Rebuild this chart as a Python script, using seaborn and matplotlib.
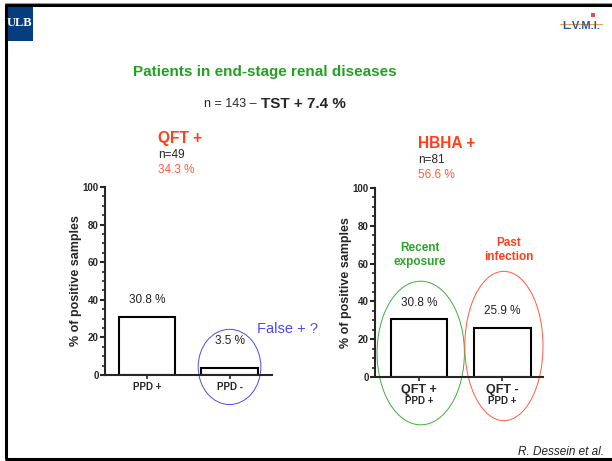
import matplotlib
matplotlib.use("Agg")
import matplotlib.pyplot as plt
from matplotlib.patches import Ellipse, Rectangle
from matplotlib.lines import Line2D
from matplotlib.ticker import MultipleLocator
import seaborn as sns

# ---- data ----
qft_categories = ["PPD +", "PPD -"]
qft_values = [30.8, 3.5]

hbha_top_labels = ["QFT +", "QFT -"]
hbha_bottom_labels = ["PPD +", "PPD +"]
hbha_values = [30.8, 25.9]

y_ticks = [0, 20, 40, 60, 80, 100]

title_text = "Patients in end-stage renal diseases"
cohort_text = "n = 143 \u2013"
tst_text = "TST + 7.4 %"
qft_header = ["QFT +", "n=49", "34.3 %"]
hbha_header = ["HBHA +", "n=81", "56.6 %"]
ylabel_text = "% of positive samples"

W, H = 612, 461

sns.set_style("ticks")
plt.rcParams["font.family"] = ["Liberation Sans", "DejaVu Sans"]

fig = plt.figure(figsize=(W / 100, H / 100), dpi=100)
fig.patch.set_facecolor("white")

RED = "#ff3f1a"
RED_LIGHT = "#ff5a3c"
GREEN = "#22a022"
BLUE = "#4a4af0"


def fx(x):
    return x / W


def fy(y):
    return 1 - y / H


def style_axes(ax, xlim):
    ax.set_ylim(0, 100)
    ax.set_xlim(*xlim)
    ax.set_yticks(y_ticks)
    ax.yaxis.set_minor_locator(MultipleLocator(5))
    for s in ["top", "right"]:
        ax.spines[s].set_visible(False)
    for s in ["left", "bottom"]:
        ax.spines[s].set_linewidth(1.5)
    ax.tick_params(axis="y", which="major", length=3.5, width=1.5, pad=1,
                   labelsize=7)
    ax.tick_params(axis="y", which="minor", length=2, width=1.2)
    ax.tick_params(axis="x", length=3, width=1.2, pad=2)
    for lbl in ax.get_yticklabels():
        lbl.set_fontweight("bold")
    ax.set_ylabel(ylabel_text, fontsize=9, fontweight="bold", labelpad=0.5)
    ax.set_xlabel("")
    ax.set_facecolor("none")


def bar_labels(ax, values, offsets):
    for i, (v, off) in enumerate(zip(values, offsets)):
        ax.annotate(f"{v:.1f} %", xy=(i, v), xytext=(0, off),
                    textcoords="offset points", ha="center", va="center",
                    fontsize=8.5, color="#222222")


# ---- left panel: QFT + ----
ax1 = fig.add_axes([fx(105), fy(375), fx(272) - fx(105), fy(187) - fy(375)])
sns.barplot(x=qft_categories, y=qft_values, ax=ax1, color="white",
            edgecolor="black", linewidth=1.5, width=0.68, saturation=1)
style_axes(ax1, (-0.51, 1.515))
ax1.set_xticks(range(len(qft_categories)))
ax1.set_xticklabels(qft_categories, fontsize=7, fontweight="bold")
bar_labels(ax1, qft_values, [12, 20])
ax1.add_patch(Ellipse((1.0, 4.3), 0.76, 40, fill=False, edgecolor=BLUE,
                      linewidth=0.7, clip_on=False))

# ---- right panel: HBHA + ----
ax2 = fig.add_axes([fx(375), fy(377), fx(543) - fx(375), fy(188) - fy(377)])
sns.barplot(x=hbha_top_labels, y=hbha_values, ax=ax2, color="white",
            edgecolor="black", linewidth=1.5, width=0.68, saturation=1)
style_axes(ax2, (-0.53, 1.49))
ax2.set_xticks(range(len(hbha_top_labels)))
ax2.set_xticklabels(hbha_top_labels, fontsize=9, fontweight="bold")
for i, lab in enumerate(hbha_bottom_labels):
    ax2.annotate(lab, xy=(i, 0), xytext=(0, -17), textcoords="offset points",
                 ha="center", va="center", fontsize=7, fontweight="bold",
                 annotation_clip=False)
bar_labels(ax2, hbha_values, [11.5, 12])
ax2.add_patch(Ellipse((0.02, 12.7), 1.05, 76, fill=False, edgecolor="#3cae3c",
                      linewidth=0.7, clip_on=False))
ax2.add_patch(Ellipse((1.02, 16.4), 0.94, 79, fill=False, edgecolor="#ff5a3c",
                      linewidth=0.7, clip_on=False))

# ---- annotations around the panels ----
fig.text(fx(265), fy(72), title_text, color=GREEN, fontsize=11,
         fontweight="bold", ha="center", va="center")
fig.text(fx(257), fy(104), cohort_text, fontsize=9, ha="right", va="center")
fig.text(fx(261), fy(104), tst_text, fontsize=11, fontweight="bold",
         ha="left", va="center")

fig.text(fx(158), fy(139), qft_header[0], color=RED, fontsize=11.2,
         fontweight="bold", ha="left", va="center")
fig.text(fx(158), fy(155), qft_header[1], fontsize=8.5, ha="left", va="center")
fig.text(fx(158), fy(170), qft_header[2], color=RED_LIGHT, fontsize=8.5,
         ha="left", va="center")

fig.text(fx(418), fy(144), hbha_header[0], color=RED, fontsize=11.2,
         fontweight="bold", ha="left", va="center")
fig.text(fx(418), fy(160), hbha_header[1], fontsize=8.5, ha="left", va="center")
fig.text(fx(418), fy(175), hbha_header[2], color=RED_LIGHT, fontsize=8.5,
         ha="left", va="center")

fig.text(fx(257), fy(329), "False + ?", color=BLUE, fontsize=10.5,
         ha="left", va="center")
fig.text(fx(420), fy(255), "Recent\nexposure", color="#2aa52a", fontsize=8.5,
         fontweight="bold", ha="center", va="center", linespacing=1.2)
fig.text(fx(509), fy(250), "Past\ninfection", color=RED, fontsize=8.5,
         fontweight="bold", ha="center", va="center", linespacing=1.2)

fig.text(fx(604), fy(452), "R. Dessein et al.", fontsize=8.5, style="italic",
         ha="right", va="center", color="#222222")

# ---- slide frame and logos ----
fig.add_artist(Rectangle((fx(5), fy(41)), fx(33) - fx(5), fy(5) - fy(41),
                         transform=fig.transFigure, facecolor="#063d7e",
                         edgecolor="none"))
fig.text(fx(19), fy(23), "ULB", color="white", fontsize=9, fontweight="bold",
         family="Liberation Serif", ha="center", va="center")

fig.add_artist(Line2D([fx(560), fx(602)], [fy(24), fy(24)],
                      transform=fig.transFigure, color="#f0a040", linewidth=0.8))
fig.text(fx(581), fy(26), "L.V.M.I.", color="#2a56a0", fontsize=8,
         fontweight="bold", ha="center", va="center")
fig.add_artist(Rectangle((fx(591), fy(17)), fx(4), fy(0) - fy(4),
                         transform=fig.transFigure, facecolor="#e05050",
                         edgecolor="none"))

frame = dict(transform=fig.transFigure, color="black", linewidth=2.2,
             solid_capstyle="butt")
fig.add_artist(Line2D([fx(5), 1], [fy(5), fy(5)], **frame))
fig.add_artist(Line2D([fx(5.5), fx(5.5)], [fy(4), fy(459)], **frame))
fig.add_artist(Line2D([fx(5), 1], [fy(459), fy(459)], **frame))
fig.add_artist(Line2D([fx(5), 1], [fy(3), fy(3)], transform=fig.transFigure,
                      color="#999999", linewidth=0.8))

fig.savefig("out.png", dpi=100)
